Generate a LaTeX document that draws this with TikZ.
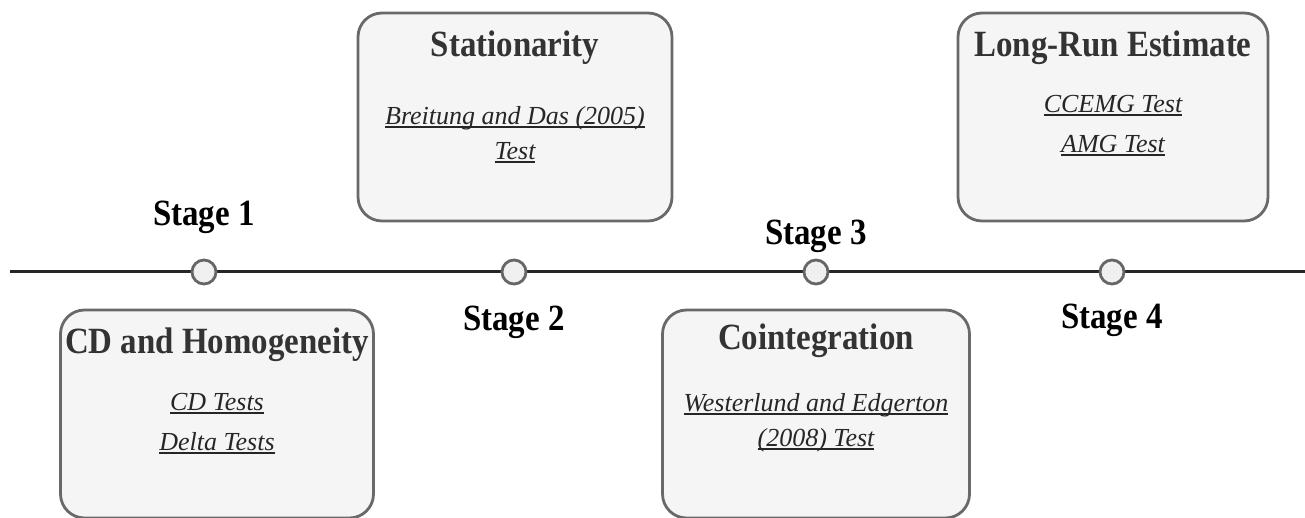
\documentclass[tikz,border=0pt]{standalone}
\usepackage{fontspec}
\setmainfont{Liberation Serif}
\newfontfamily\headfont{Liberation Serif}[FakeStretch=0.89]
\usetikzlibrary{
positioning
}
\definecolor{boxline}{HTML}{696969}
\definecolor{boxfill}{HTML}{F5F5F5}
\definecolor{headtext}{HTML}{333333}
\definecolor{testtext}{HTML}{262626}
\definecolor{dotline}{HTML}{666666}
\definecolor{dotfill}{HTML}{F0F0F0}
\newsavebox{\testbox}
\newcommand{\testref}[1]{%
  \sbox{\testbox}{\itshape #1}%
  \rlap{\rule[-3.5pt]{\wd\testbox}{1.8pt}}\usebox{\testbox}}

\begin{document}
\begin{tikzpicture}[
        x=1pt, y=1pt,
        stage box/.style={
          draw=boxline,
          line width=2.8pt,
          fill=boxfill,
          rounded corners=24pt,
          minimum width=#1,
          minimum height=208pt,
          inner sep=0pt,
        },
        stage dot/.style={
          circle,
          draw=dotline,
          line width=2.8pt,
          fill=dotfill,
          minimum size=24pt,
          inner sep=0pt,
        },
        stage label/.style={
          font=\headfont\fontsize{37}{40}\selectfont\bfseries,
          anchor=base,
        },
        box title/.style={
          font=\headfont\fontsize{37}{40}\selectfont\bfseries,
          text=headtext,
          anchor=base,
        },
        test line/.style={
          font=\fontsize{26}{30}\selectfont,
          text=testtext,
          anchor=base,
        },
        ]
        \useasboundingbox (0,0) rectangle (1305,517);
        % timeline
        \coordinate (line-start) at (10,245);
        \coordinate (line-end) at (1305,245);
        \draw [line width=3pt, black!85] (line-start) -- (line-end);
        \node [stage dot] (dot-1) at (204,245) {};
        \node [stage dot] (dot-2) at (514,245) {};
        \node [stage dot] (dot-3) at (816,245) {};
        \node [stage dot] (dot-4) at (1112,245) {};
        \node [stage label] (stage-1) at ([yshift=46pt]dot-1) {Stage 1};
        \node [stage label] (stage-2) at ([yshift=-58pt]dot-2) {Stage 2};
        \node [stage label] (stage-3) at ([yshift=27pt]dot-3) {Stage 3};
        \node [stage label] (stage-4) at ([yshift=-56pt]dot-4) {Stage 4};
        % stage boxes
        \node [stage box=313pt] (box-cd) at (217,103) {};
        \node [stage box=314pt] (box-stat) at (515,400) {};
        \node [stage box=307pt] (box-coint) at (816,103) {};
        \node [stage box=310pt] (box-long) at (1113,400) {};
        % stage 1
        \node [box title] (title-cd) at ([yshift=-45pt]box-cd.north) {CD and Homogeneity};
        \node [test line] (cd-a) at ([yshift=-57pt]title-cd.base) {\testref{CD Tests}};
        \node [test line] (cd-b) at ([yshift=-40pt]cd-a.base) {\testref{Delta Tests}};
        % stage 2
        \node [box title] (title-stat) at ([yshift=-45pt]box-stat.north) {Stationarity};
        \node [test line] (stat-a) at ([yshift=-68pt]title-stat.base) {\testref{Breitung and Das (2005)}};
        \node [test line] (stat-b) at ([yshift=-35pt]stat-a.base) {\testref{Test}};
        % stage 3
        \node [box title] (title-coint) at ([yshift=-41pt]box-coint.north) {Cointegration};
        \node [test line] (coint-a) at ([yshift=-62pt]title-coint.base) {\testref{Westerlund and Edgerton}};
        \node [test line] (coint-b) at ([yshift=-35pt]coint-a.base) {\testref{(2008) Test}};
        % stage 4
        \node [box title] (title-long) at ([yshift=-45pt]box-long.north) {Long-Run Estimate};
        \node [test line] (long-a) at ([yshift=-56pt]title-long.base) {\testref{CCEMG Test}};
        \node [test line] (long-b) at ([yshift=-40pt]long-a.base) {\testref{AMG Test}};
      \end{tikzpicture}
\end{document}
